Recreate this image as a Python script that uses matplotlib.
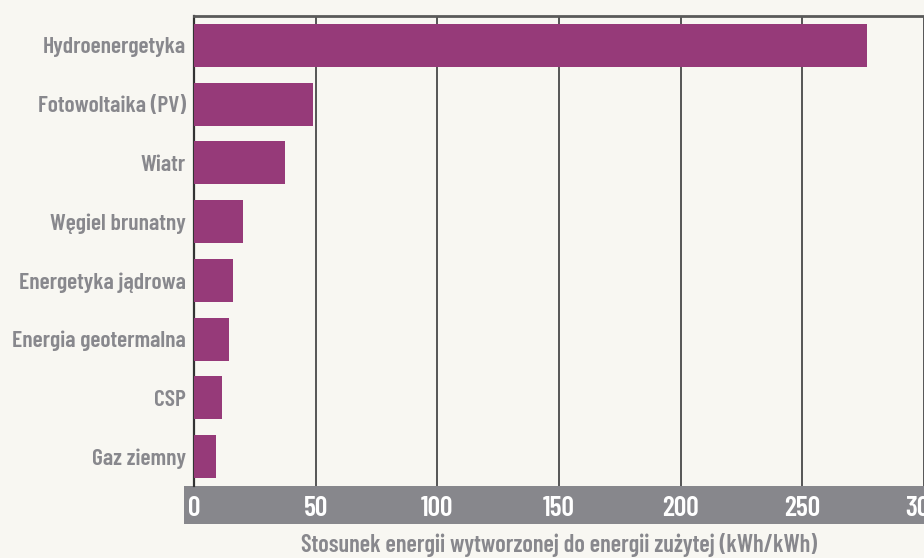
import matplotlib
matplotlib.use("Agg")
import matplotlib.pyplot as plt
from matplotlib.patches import Rectangle

# Energy returned on energy invested, by source
sources = ["Hydroenergetyka", "Fotowoltaika (PV)", "Wiatr", "Węgiel brunatny",
           "Energetyka jądrowa", "Energia geotermalna", "CSP", "Gaz ziemny"]
ratios = [276.4, 48.8, 37.3, 20.0, 15.9, 14.3, 11.4, 8.9]
xticks = [0, 50, 100, 150, 200, 250, 300]
xlabel = "Stosunek energii wytworzonej do energii zużytej (kWh/kWh)"

bg = "#f8f7f2"
bar_color = "#963a79"
text_grey = "#88888d"
band_grey = "#87878c"
font = ["Barlow Condensed", "DejaVu Sans"]

fig = plt.figure(figsize=(9.24, 5.58), dpi=100, facecolor=bg)
ax = fig.add_axes([194 / 924, 72 / 558, 730 / 924, 470 / 558])
ax.set_facecolor(bg)

# grey strip behind the x tick labels
band = Rectangle((184 / 924, 34 / 558), 1.0, 38 / 558, transform=fig.transFigure,
                 facecolor=band_grey, edgecolor="none", zorder=-1)
fig.patches.append(band)

ypos = list(range(len(sources)))
ax.barh(ypos, ratios, height=0.73, color=bar_color, zorder=3)

ax.set_xlim(0, 300)
ax.set_ylim(len(sources) - 0.5, -0.5)
ax.set_xticks(xticks)
ax.set_xticklabels([str(t) for t in xticks])
ax.set_yticks(ypos)
ax.set_yticklabels(sources)

ax.grid(axis="x", color="#555555", linewidth=1.4, zorder=1)
ax.grid(axis="y", visible=False)

for side in ["right", "bottom"]:
    ax.spines[side].set_visible(False)
ax.spines["top"].set_color("#5a5a5a")
ax.spines["top"].set_linewidth(2)
ax.spines["left"].set_color("#333333")
ax.spines["left"].set_linewidth(1.6)

ax.tick_params(axis="y", length=0, pad=6, labelcolor=text_grey)
ax.tick_params(axis="x", length=0, pad=7, labelcolor="white")
for lab in ax.get_yticklabels():
    lab.set_family(font)
    lab.set_weight(600)
    lab.set_fontsize(17)
for lab in ax.get_xticklabels():
    lab.set_family(font)
    lab.set_weight(600)
    lab.set_fontsize(20)

ax.set_xlabel(xlabel, family=font, weight=600, fontsize=17.5,
              color=text_grey, labelpad=9)

fig.savefig("out.png", dpi=100, facecolor=bg)
